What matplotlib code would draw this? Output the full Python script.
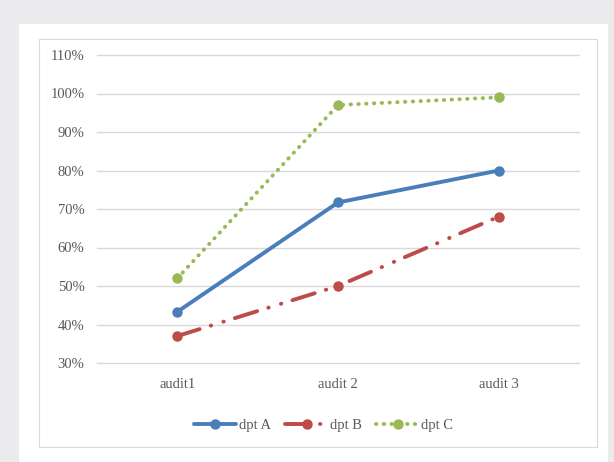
import matplotlib.pyplot as plt
from matplotlib.patches import Rectangle
from matplotlib.ticker import PercentFormatter

# audit results per department
audits = ['audit1', 'audit 2', 'audit 3']
dpt_a = [0.433, 0.717, 0.80]
dpt_b = [0.37, 0.50, 0.68]
dpt_c = [0.52, 0.97, 0.99]

text_col = '#595959'
plt.rcParams['font.family'] = ['Liberation Serif', 'DejaVu Serif']
plt.rcParams['font.size'] = 10.5

fig = plt.figure(figsize=(6.14, 4.62), dpi=100)
fig.patch.set_facecolor('#ebebed')

# white page and the chart frame behind the axes
W, H = 614, 462
fig.patches.append(Rectangle((19 / W, 0), 589 / W, 438 / H, transform=fig.transFigure,
                             facecolor='white', edgecolor='none', zorder=-2))
fig.patches.append(Rectangle((39 / W, 1 - 447 / H), 558 / W, 408 / H, transform=fig.transFigure,
                             facecolor='white', edgecolor='#d9d9d9', linewidth=0.8, zorder=-1))

ax = fig.add_axes([97 / W, 1 - 363 / H, 482 / W, 308 / H])
ax.set_facecolor('none')

x = range(len(audits))
ax.plot(x, dpt_a, color='#4a7ebb', linewidth=2.8, marker='o', markersize=6.5,
        solid_capstyle='round', label='dpt A', zorder=3)
ax.plot(x, dpt_b, color='#be4b48', linewidth=2.8, marker='o', markersize=6.5,
        linestyle=(0, (6.0, 3.0, 0.1, 3.3, 0.1, 3.0)), dash_capstyle='round',
        label='dpt B', zorder=3)
ax.plot(x, dpt_c, color='#98b954', linewidth=2.8, marker='o', markersize=6.5,
        linestyle=(0, (0.1, 1.9)), dash_capstyle='round', label='dpt C', zorder=3)

ax.set_xlim(-0.5, 2.5)
ax.set_ylim(0.3, 1.1)
ax.set_yticks([0.3, 0.4, 0.5, 0.6, 0.7, 0.8, 0.9, 1.0, 1.1])
ax.yaxis.set_major_formatter(PercentFormatter(1.0, decimals=0))
ax.set_xticks(list(x))
ax.set_xticklabels(audits)

ax.grid(axis='y', color='#d9d9d9', linewidth=1.0)
for gl in ax.get_ygridlines():
    gl.set_clip_on(False)
ax.set_axisbelow(True)
for s in ax.spines.values():
    s.set_visible(False)
ax.tick_params(axis='both', length=0, colors=text_col)
ax.tick_params(axis='y', pad=9)
ax.tick_params(axis='x', pad=11)

leg = ax.legend(loc='center', bbox_to_anchor=(0.47, -0.203), ncol=3, frameon=False,
                handlelength=2.9, handletextpad=0.15, columnspacing=1.0)
for t in leg.get_texts():
    t.set_color(text_col)

fig.savefig('out.png', dpi=100, facecolor=fig.get_facecolor())
